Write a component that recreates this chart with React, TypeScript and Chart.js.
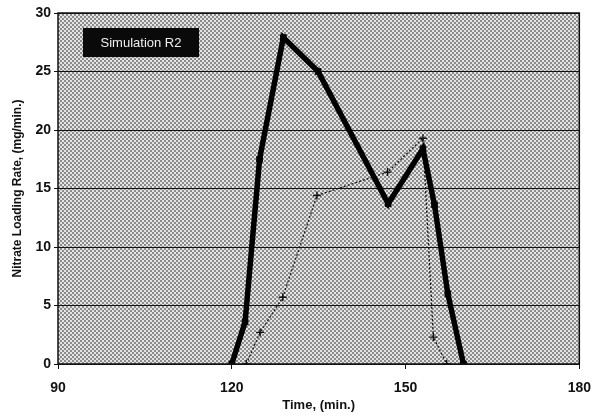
import React, { useEffect, useRef } from "react";
import { Chart, registerables } from "chart.js";

Chart.register(...registerables);

const measuredTime = [120, 122.3, 124.8, 128.9, 134.9, 147, 153, 155, 157.3, 160];
const measuredRate = [0, 3.6, 17.5, 27.9, 25.0, 13.7, 18.4, 13.6, 6.0, 0];

const simTime = [122.5, 124.9, 128.8, 134.7, 146.9, 153, 154.8, 157.1];
const simRate = [0, 2.7, 5.7, 14.4, 16.4, 19.3, 2.3, 0];

const xTicks = [90, 120, 150, 180];
const yTicks = [0, 5, 10, 15, 20, 25, 30];

const boxLabel = "Simulation R2";
const xTitle = "Time, (min.)";
const yTitle = "Nitrate Loading Rate, (mg/min.)";

const FONT = "'Liberation Sans', Arial, sans-serif";

function makePattern(ctx: CanvasRenderingContext2D): CanvasPattern | string {
  const c = document.createElement("canvas");
  c.width = 4;
  c.height = 4;
  const p = c.getContext("2d");
  if (!p) return "#aaa";
  p.fillStyle = "#e4e4e4";
  p.fillRect(0, 0, 4, 4);
  p.fillStyle = "#8c8c8c";
  p.fillRect(0, 0, 2, 2);
  p.fillRect(2, 2, 2, 2);
  return ctx.createPattern(c, "repeat") || "#aaa";
}

const bgPlugin = {
  id: "bgPattern",
  beforeDraw(chart: any) {
    const { ctx, chartArea } = chart;
    if (!chartArea) return;
    ctx.save();
    ctx.fillStyle = "#fff";
    ctx.fillRect(0, 0, chart.width, chart.height);
    ctx.fillStyle = makePattern(ctx);
    ctx.fillRect(chartArea.left, chartArea.top, chartArea.right - chartArea.left, chartArea.bottom - chartArea.top);
    ctx.restore();
  },
  afterDraw(chart: any) {
    const { ctx, chartArea } = chart;
    ctx.save();
    ctx.strokeStyle = "#111";
    ctx.lineWidth = 1.5;
    ctx.strokeRect(chartArea.left, chartArea.top, chartArea.right - chartArea.left, chartArea.bottom - chartArea.top);
    const bx = chartArea.left + 25;
    const by = chartArea.top + 15;
    ctx.fillStyle = "#0a0a0a";
    ctx.fillRect(bx, by, 116, 29);
    ctx.fillStyle = "#f0f0f0";
    ctx.font = "13px " + FONT;
    ctx.textAlign = "center";
    ctx.textBaseline = "middle";
    ctx.fillText(boxLabel, bx + 58, by + 15);
    ctx.restore();
  },
};

export default function App() {
  const ref = useRef<HTMLCanvasElement>(null);
  useEffect(() => {
    if (!ref.current) return;
    const chart = new Chart(ref.current, {
      type: "scatter",
      data: {
        datasets: [
          {
            label: "Measured",
            data: measuredTime.map((t, i) => ({ x: t, y: measuredRate[i] })),
            showLine: true,
            borderColor: "#000",
            backgroundColor: "#000",
            borderWidth: 5.5,
            pointStyle: "rect",
            pointRadius: 4,
            pointBorderWidth: 1,
          },
          {
            label: "Simulated",
            data: simTime.map((t, i) => ({ x: t, y: simRate[i] })),
            showLine: true,
            borderColor: "#111",
            backgroundColor: "#111",
            borderWidth: 1.2,
            borderDash: [2, 2],
            pointStyle: "cross",
            pointRadius: 4,
            pointBorderWidth: 1.4,
          },
        ],
      },
      options: {
        animation: false,
        responsive: false,
        layout: { padding: { top: 13, right: 0, left: 0, bottom: 0 } },
        plugins: { legend: { display: false }, tooltip: { enabled: false } },
        scales: {
          x: {
            type: "linear",
            min: 90,
            max: 180,
            afterBuildTicks: (s: any) => {
              s.ticks = xTicks.map((v) => ({ value: v }));
            },
            afterFit: (s: any) => {
              s.height = 53;
            },
            border: { display: false },
            grid: { drawOnChartArea: false, drawTicks: true, tickLength: 5, color: "#111" },
            ticks: {
              color: "#111",
              font: { family: FONT, size: 14, weight: "bold" },
              padding: 11,
              maxRotation: 0,
            },
            title: {
              display: true,
              text: xTitle,
              color: "#111",
              font: { family: FONT, size: 13, weight: "bold" },
              padding: { top: 0, bottom: 4 },
            },
          },
          y: {
            type: "linear",
            min: 0,
            max: 30,
            afterBuildTicks: (s: any) => {
              s.ticks = yTicks.map((v) => ({ value: v }));
            },
            afterFit: (s: any) => {
              s.width = 58;
            },
            border: { display: false },
            grid: { color: "#111", lineWidth: 1, drawTicks: true, tickLength: 4 },
            ticks: {
              color: "#111",
              font: { family: FONT, size: 14, weight: "bold" },
              padding: 3,
            },
            title: {
              display: true,
              text: yTitle,
              color: "#111",
              font: { family: FONT, size: 12, weight: "bold" },
              padding: { top: 10, bottom: 0 },
            },
          },
        },
      },
      plugins: [bgPlugin],
    } as any);
    return () => chart.destroy();
  }, []);
  return (
    <div style={{ position: "absolute", left: 0, top: 0, width: 592, height: 417, overflow: "hidden" }}>
      <canvas ref={ref} width={602} height={417} style={{ display: "block" }} />
    </div>
  );
}
